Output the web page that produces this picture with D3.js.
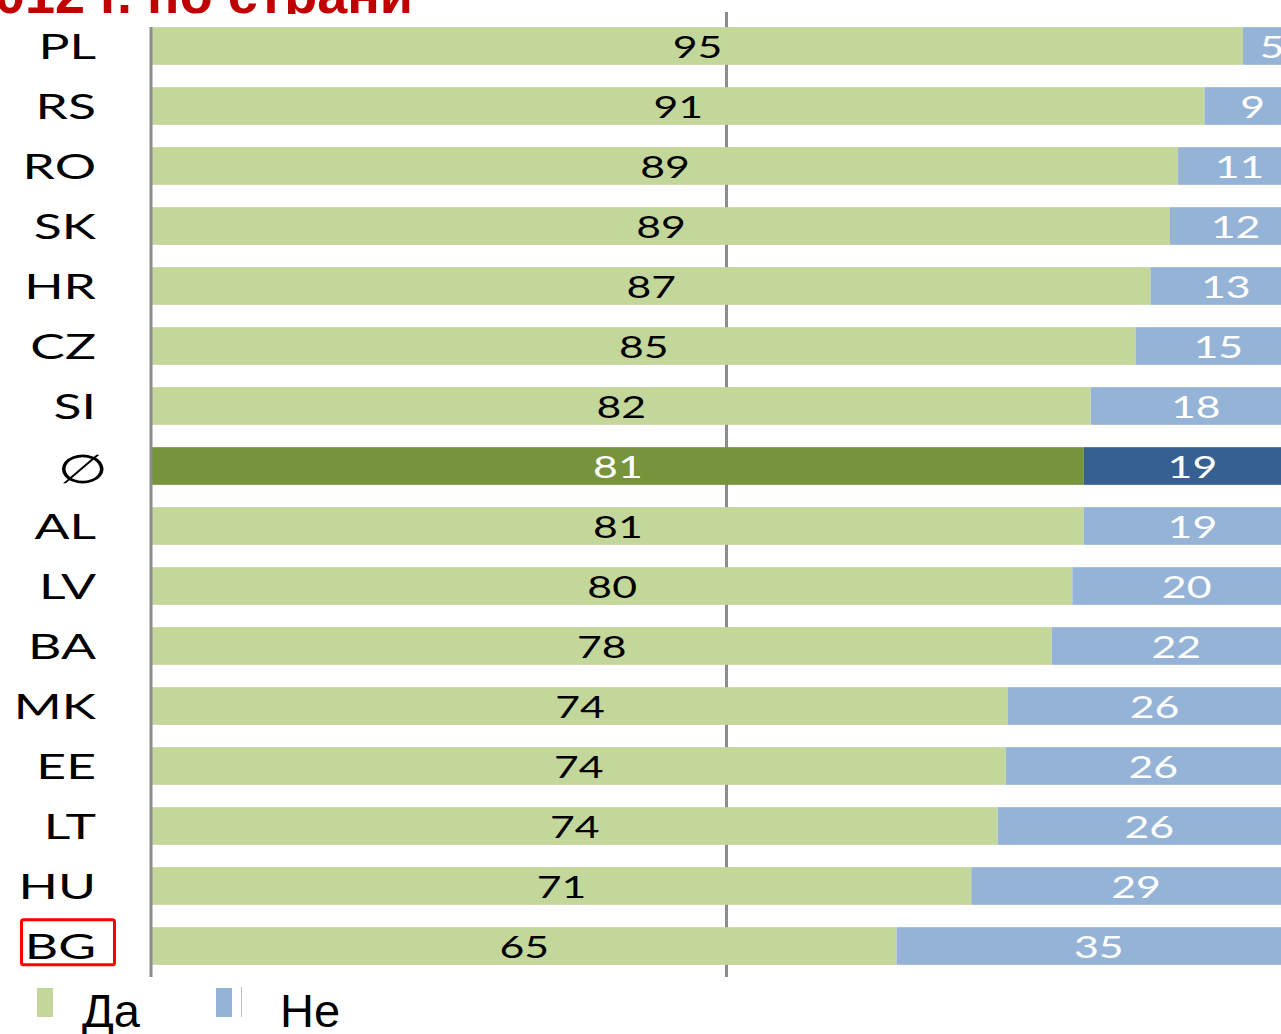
<!DOCTYPE html>
<html>
<head>
<meta charset="utf-8">
<script src="https://cdn.jsdelivr.net/npm/d3@7"></script>
<style>
  body { margin: 0; background: #fff; }
  svg { display: block; }
</style>
</head>
<body>
<svg id="chart" width="1281" height="1034"></svg>
<script>
// Countries, top to bottom ("∅" = average)
const countries = ["PL", "RS", "RO", "SK", "HR", "CZ", "SI", "∅", "AL", "LV", "BA", "MK", "EE", "LT", "HU", "BG"];
// Share answering "Да" (bar lengths)
const yesValues = [94.95, 91.6, 89.3, 88.6, 86.9, 85.6, 81.7, 81.1, 81.1, 80.1, 78.3, 74.5, 74.3, 73.6, 71.3, 64.8];
// Printed labels
const yesLabels = [95, 91, 89, 89, 87, 85, 82, 81, 81, 80, 78, 74, 74, 74, 71, 65];
const noLabels = [5, 9, 11, 12, 13, 15, 18, 19, 19, 20, 22, 26, 26, 26, 29, 35];
const seriesNames = ["Да", "Не"];
const titleText = "2012 г. по страни";

const avgKey = "∅";
const highlightKey = "BG";

const rows = countries.map((c, i) => ({
    country: c,
    yes: yesValues[i],
    no: 100 - yesValues[i],
    yesLabel: yesLabels[i],
    noLabel: noLabels[i]
}));

const colors = {
    yes: "#C4D79B", no: "#95B3D7",
    yesAvg: "#77933C", noAvg: "#376092"
};

const svg = d3.select("#chart");

// Scales
const x = d3.scaleLinear().domain([0, 100]).range([152, 1301]);
const y = d3.scaleBand()
    .domain(countries)
    .range([16, 976])
    .paddingInner(0.372)
    .paddingOuter(0.186);

const labelFont = "Lato, 'Open Sans', sans-serif";

// Title (cut off at top edge)
svg.append("clipPath").attr("id", "titleClip")
    .append("rect").attr("x", 0).attr("y", 0).attr("width", 1281).attr("height", 14);
svg.append("text")
    .attr("clip-path", "url(#titleClip)")
    .attr("x", 413)
    .attr("y", 13)
    .attr("text-anchor", "end")
    .attr("font-family", "'Liberation Sans', Arial, sans-serif")
    .attr("font-weight", "bold")
    .attr("font-size", 54)
    .attr("fill", "#C00000")
    .text(titleText);

// 50% gridline
svg.append("line")
    .attr("x1", x(50)).attr("x2", x(50))
    .attr("y1", 12).attr("y2", 977)
    .attr("stroke", "#8C8C8C")
    .attr("stroke-width", 3);

// Bars
const barG = svg.append("g");
barG.selectAll(".yes")
    .data(rows)
    .enter()
    .append("rect")
    .attr("class", "yes")
    .attr("x", x(0))
    .attr("y", d => y(d.country))
    .attr("width", d => x(d.yes) - x(0))
    .attr("height", y.bandwidth())
    .attr("fill", d => d.country === avgKey ? colors.yesAvg : colors.yes);

barG.selectAll(".no")
    .data(rows)
    .enter()
    .append("rect")
    .attr("class", "no")
    .attr("x", d => x(d.yes))
    .attr("y", d => y(d.country))
    .attr("width", d => x(100) - x(d.yes))
    .attr("height", y.bandwidth())
    .attr("fill", d => d.country === avgKey ? colors.noAvg : colors.no);

// Left axis line
svg.append("line")
    .attr("x1", 151).attr("x2", 151)
    .attr("y1", 27).attr("y2", 977)
    .attr("stroke", "#8C8C8C")
    .attr("stroke-width", 3);

// Value labels (stretched horizontally like the original)
const numScale = 1.38;
const valG = svg.append("g")
    .attr("font-family", labelFont)
    .attr("font-size", 31)
    .attr("text-anchor", "middle")
    .attr("dominant-baseline", "central");

valG.selectAll(".ylab")
    .data(rows)
    .enter()
    .append("text")
    .attr("transform", d => `translate(${(x(0) + x(d.yes)) / 2},${y(d.country) + y.bandwidth() / 2}) scale(${numScale},1)`)
    .attr("fill", d => d.country === avgKey ? "#fff" : "#000")
    .text(d => d.yesLabel);

valG.selectAll(".nlab")
    .data(rows)
    .enter()
    .append("text")
    .attr("transform", d => `translate(${(x(d.yes) + x(100)) / 2},${y(d.country) + y.bandwidth() / 2}) scale(${numScale},1)`)
    .attr("fill", "#fff")
    .text(d => d.noLabel);

// Category labels
const catScale = 1.52;
const catG = svg.append("g")
    .attr("font-family", labelFont)
    .attr("font-size", 34)
    .attr("text-anchor", "end")
    .attr("dominant-baseline", "central");

catG.selectAll(".cat")
    .data(countries)
    .enter()
    .append("text")
    .attr("transform", d => d === avgKey
        ? `translate(108,${y(d) + y.bandwidth() / 2 + 3}) scale(1.45,1)`
        : `translate(96,${y(d) + y.bandwidth() / 2}) scale(${catScale},1)`)
    .attr("font-family", d => d === avgKey ? "'DejaVu Sans', sans-serif" : null)
    .attr("font-size", d => d === avgKey ? 40 : null)
    .attr("fill", "#000")
    .text(d => d);

// Highlight box around BG
svg.append("rect")
    .attr("x", 21.5)
    .attr("y", y(highlightKey) - 7.5)
    .attr("width", 93)
    .attr("height", 45)
    .attr("rx", 2)
    .attr("fill", "none")
    .attr("stroke", "#FF0000")
    .attr("stroke-width", 3);

// Legend
const legendX = [37, 216];
const legendColors = [colors.yes, colors.no];
const legG = svg.append("g");
seriesNames.forEach((name, i) => {
    legG.append("rect")
        .attr("x", legendX[i])
        .attr("y", 988)
        .attr("width", 16)
        .attr("height", 29)
        .attr("fill", legendColors[i]);
    legG.append("text")
        .attr("x", legendX[i] + 45 + i * 19)
        .attr("y", 1027)
        .attr("font-family", "'Liberation Sans', Arial, sans-serif")
        .attr("font-size", 47)
        .attr("fill", "#000")
        .text(name);
});
legG.append("line")
    .attr("x1", 241.5).attr("x2", 241.5)
    .attr("y1", 987).attr("y2", 1017)
    .attr("stroke", "#BFBFBF")
    .attr("stroke-width", 1);
</script>
</body>
</html>
